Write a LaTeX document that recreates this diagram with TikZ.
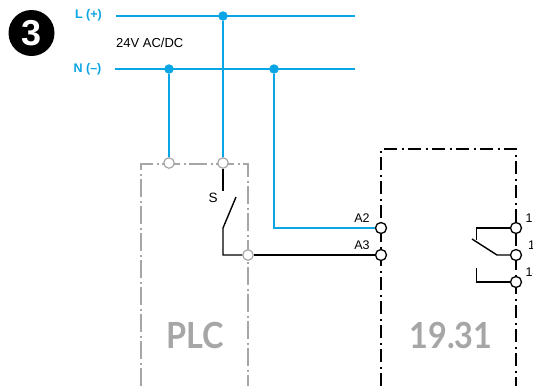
\documentclass[tikz,border=0pt]{standalone}
\usepackage{fontspec}
\setmainfont{Liberation Sans}
\newfontfamily\futura{Lato}
\definecolor{wireblue}{RGB}{10,165,228}
\definecolor{plcgray}{RGB}{166,166,166}
\begin{document}
\begin{tikzpicture}[x=1pt,y=-1pt,
	wire/.style={line width=1.5pt,wireblue},
	sig/.style={line width=1.4pt,black},
	dot/.style={circle,fill=wireblue,inner sep=0pt,minimum size=9.5pt},
	termg/.style={circle,draw=plcgray,fill=white,line width=1.2pt,inner sep=0pt,minimum size=10.5pt},
	termk/.style={circle,draw=black,fill=white,line width=1.3pt,inner sep=0pt,minimum size=11pt},
	lab/.style={font=\fontsize{12.5}{12.5}\selectfont,inner sep=0pt},
	power/.style={font=\bfseries\fontsize{12.5}{12.5}\selectfont,text=wireblue,inner sep=0pt},
	big/.style={font=\futura\bfseries\fontsize{36}{36}\selectfont,text=plcgray,inner sep=0pt}]
	\clip (0,0) rectangle (533,386);
	\useasboundingbox (0,0) rectangle (533,386);
	\node[circle,fill=black,minimum size=46pt,inner sep=0pt] (badge) at (31.5,33) {};
	\node[font=\bfseries\fontsize{36}{36}\selectfont,text=white,inner sep=0pt] (three) at (32,33) {3};

	\draw[plcgray,line width=1.1pt,dash pattern=on 18pt off 3.5pt on 2pt off 3.5pt] (141,386) -- (141,164) -- (248,164) -- (248,386);
	\draw[black,line width=1.2pt,dash pattern=on 13pt off 4.5pt on 2pt off 4.5pt] (381,386) -- (381,149) -- (516,149) -- (516,386);

	\coordinate (Lin) at (116,16);
	\coordinate (Lout) at (355,16);
	\coordinate (Nin) at (115,69);
	\coordinate (Nout) at (355,69);
	\node[dot] (dotL) at (223,16) {};
	\node[dot] (dotN) at (169,69) {};
	\node[dot] (dotA) at (274,69) {};
	\node[termg] (plcA) at (169,163) {};
	\node[termg] (plcB) at (223,163) {};
	\node[termg] (plcC) at (248,255) {};
	\node[termk] (a2) at (381,228) {};
	\node[termk] (a3) at (381,255) {};
	\node[termk] (t12) at (516,228) {};
	\node[termk] (t11) at (516,255) {};
	\node[termk] (t14) at (516,282) {};

	\draw[wire] (Lin) -- (Lout);
	\draw[wire] (Nin) -- (Nout);
	\draw[wire] (dotL) -- (plcB);
	\draw[wire] (dotN) -- (plcA);
	\draw[wire] (dotA) |- (a2);

	\coordinate (swtop) at (223,191);
	\coordinate (swtip) at (236,197);
	\coordinate (swbase) at (223,228);
	\coordinate (nc) at (476.5,240);
	\coordinate (no) at (476.5,268);
	\coordinate (bladetop) at (472,239);
	\coordinate (bladeend) at (497,255);
	\draw[sig] (plcB) -- (swtop);
	\draw[sig] (swtip) -- (swbase) |- (plcC);
	\draw[sig] (plcC) -- (a3);
	\draw[sig] (t12) -| (nc);
	\draw[sig] (bladetop) -- (bladeend) -- (t11);
	\draw[sig] (no) |- (t14);

	\node[power] (labL) at (88.5,15.5) {L (+)};
	\node[power] (labN) at (87.5,69) {N (--)};
	\node[lab,anchor=west,font=\fontsize{13}{13}\selectfont] (volt) at (116,43) {24V AC/DC};
	\node[lab,font=\fontsize{13.5}{13.5}\selectfont] (labS) at (213,198) {S};
	\node[lab] (labA2) at (362,218.5) {A2};
	\node[lab] (labA3) at (362,245) {A3};
	\node[lab,anchor=west] (lab12) at (525.5,218) {12};
	\node[lab,anchor=west] (lab11) at (528,245) {11};
	\node[lab,anchor=west] (lab14) at (525.5,272) {14};
	\node[big,xscale=.9] (plc) at (195,335) {PLC};
	\node[big,xscale=.9] (num) at (451,335) {19.31};
\end{tikzpicture}
\end{document}
